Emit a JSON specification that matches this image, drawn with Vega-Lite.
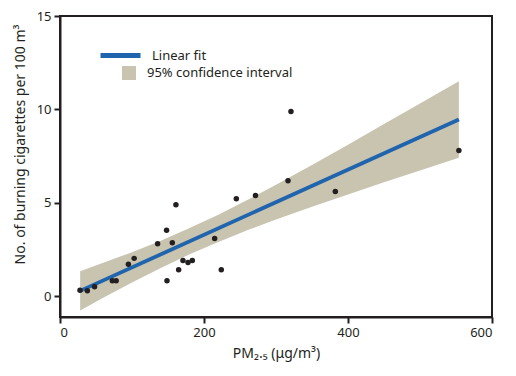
{
  "$schema": "https://vega.github.io/schema/vega-lite/v6.json",
  "width": 432,
  "height": 301,
  "autosize": {"type": "none"},
  "padding": {"left": 60, "top": 16, "right": 24, "bottom": 59},
  "background": "white",
  "datasets": {
    "band": [
      {"x": 28, "lo": -0.77, "hi": 1.33},
      {"x": 60, "lo": -0.09, "hi": 1.78},
      {"x": 100, "lo": 0.73, "hi": 2.35},
      {"x": 140, "lo": 1.51, "hi": 2.97},
      {"x": 180, "lo": 2.24, "hi": 3.64},
      {"x": 220, "lo": 2.9, "hi": 4.36},
      {"x": 260, "lo": 3.52, "hi": 5.14},
      {"x": 300, "lo": 4.1, "hi": 5.96},
      {"x": 350, "lo": 4.78, "hi": 7.02},
      {"x": 400, "lo": 5.44, "hi": 8.11},
      {"x": 450, "lo": 6.09, "hi": 9.21},
      {"x": 500, "lo": 6.73, "hi": 10.31},
      {"x": 554, "lo": 7.41, "hi": 11.51}
    ],
    "fit": [
      {"x": 28, "y": 0.28},
      {"x": 554, "y": 9.46}
    ],
    "pts": [
      {"x": 27.8, "y": 0.31},
      {"x": 38, "y": 0.29},
      {"x": 48, "y": 0.5},
      {"x": 72.7, "y": 0.82},
      {"x": 78, "y": 0.82},
      {"x": 95, "y": 1.71},
      {"x": 103, "y": 2.02},
      {"x": 135.6, "y": 2.8},
      {"x": 148, "y": 3.52},
      {"x": 148.6, "y": 0.82},
      {"x": 156, "y": 2.86},
      {"x": 161, "y": 4.89},
      {"x": 164.8, "y": 1.41},
      {"x": 170.8, "y": 1.91},
      {"x": 177.8, "y": 1.8},
      {"x": 183.8, "y": 1.91},
      {"x": 214.8, "y": 3.09},
      {"x": 224, "y": 1.41},
      {"x": 244.9, "y": 5.21},
      {"x": 271.5, "y": 5.39},
      {"x": 316.7, "y": 6.18},
      {"x": 320.8, "y": 9.89},
      {"x": 382.4, "y": 5.6},
      {"x": 554, "y": 7.8}
    ]
  },
  "layer": [
    {
      "data": {"name": "band"},
      "mark": {"type": "area", "opacity": 1},
      "encoding": {
        "x": {"field": "x", "type": "quantitative"},
        "y": {"field": "lo", "type": "quantitative"},
        "y2": {"field": "hi"},
        "fill": {
          "datum": "95% confidence interval",
          "type": "nominal",
          "scale": {"domain": ["95% confidence interval"], "range": ["#c8c4b0"]},
          "legend": {
            "orient": "none", "legendX": 62, "legendY": 50, "title": null,
            "symbolType": "square", "symbolSize": 196, "symbolOpacity": 1,
            "symbolStrokeWidth": 0, "labelOffset": 11, "padding": 0
          }
        }
      }
    },
    {
      "data": {"name": "fit"},
      "mark": {"type": "line", "strokeWidth": 3.8},
      "encoding": {
        "x": {"field": "x", "type": "quantitative"},
        "y": {"field": "y", "type": "quantitative"},
        "stroke": {
          "datum": "Linear fit",
          "type": "nominal",
          "scale": {"domain": ["Linear fit"], "range": ["#1f64ad"]},
          "legend": {
            "orient": "none", "legendX": 38, "legendY": 17, "title": null,
            "symbolType": "stroke", "symbolSize": 1600, "symbolStrokeWidth": 5,
            "labelOffset": 9, "padding": 0,
            "symbolStrokeColor": "#5878b2"
          }
        }
      }
    },
    {
      "data": {"name": "pts"},
      "mark": {"type": "point", "filled": true, "size": 30, "opacity": 1, "color": "#231f20"},
      "encoding": {
        "x": {
          "field": "x", "type": "quantitative",
          "scale": {"domain": [0, 600], "nice": false, "zero": false},
          "axis": {
            "values": [0, 200, 400, 600],
            "title": "PM₂.₅ (μg/m³)",
            "titleY": 40, "titleBaseline": "alphabetic"
          }
        },
        "y": {
          "field": "y", "type": "quantitative",
          "scale": {"domain": [-1.12, 15], "nice": false, "zero": false},
          "axis": {
            "values": [0, 5, 10, 15],
            "title": "No. of burning cigarettes per 100 m³",
            "titleX": -40, "titleY": 128, "titleAngle": -90,
            "titleAlign": "center", "titleBaseline": "middle"
          }
        }
      }
    }
  ],
  "config": {
    "font": "Noto Sans",
    "view": {"stroke": "#231f20", "strokeWidth": 2},
    "axis": {
      "grid": false,
      "domainColor": "#231f20",
      "domainWidth": 2,
      "tickColor": "#231f20",
      "tickWidth": 2,
      "tickSize": 6,
      "labelFont": "Noto Sans",
      "labelFontSize": 13,
      "labelColor": "#231f20",
      "labelPadding": 3,
      "titleFont": "Noto Sans",
      "titleFontSize": 14,
      "titleFontWeight": "normal",
      "titleColor": "#231f20"
    },
    "legend": {
      "labelFont": "Noto Sans",
      "labelFontSize": 13,
      "labelColor": "#231f20"
    }
  }
}
